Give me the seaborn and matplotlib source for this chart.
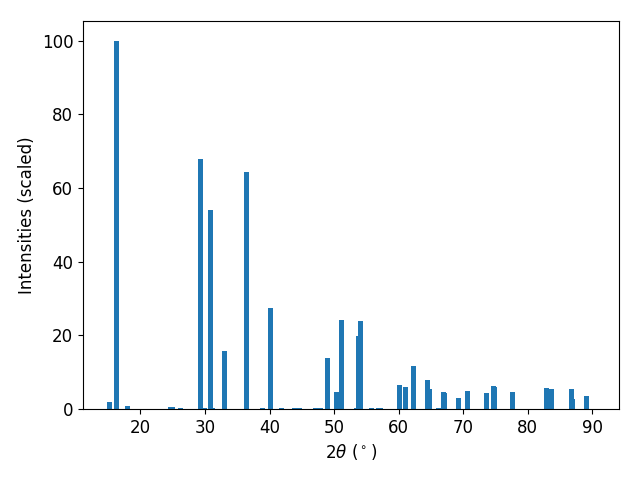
import numpy as np
import matplotlib
matplotlib.use("Agg")
import matplotlib.pyplot as plt
import seaborn as sns

# Peak positions (2theta, degrees) and scaled intensities
two_theta = [15.2, 16.28, 17.99, 24.7, 24.95, 26.2, 29.3, 29.9, 30.84, 31.1,
             33.0, 36.4, 38.9, 40.13, 41.8, 43.85, 44.6, 47.1, 47.9, 48.96,
             50.4, 51.1, 53.4, 53.8, 54.07, 55.8, 56.95, 57.15, 60.1, 61.04,
             62.28, 64.45, 64.76, 66.15, 66.9, 67.05, 69.25, 70.64, 73.58, 74.68,
             74.82, 77.6, 82.88, 83.65, 86.75, 86.9, 89.07]
intensity = [1.9, 100.0, 0.8, 0.6, 0.6, 0.3, 68.0, 0.2, 54.0, 0.2,
             15.7, 64.2, 0.3, 27.4, 0.3, 0.3, 0.3, 0.3, 0.3, 13.8,
             4.6, 24.1, 0.3, 19.8, 23.9, 0.3, 0.3, 0.3, 6.5, 6.0,
             11.7, 7.9, 5.4, 0.3, 4.6, 4.3, 3.0, 4.9, 4.3, 6.2,
             6.0, 4.6, 5.7, 5.4, 5.4, 2.7, 3.5]

plt.rcParams['font.size'] = 12
color = sns.color_palette("tab10")[0]

fig, ax = plt.subplots(figsize=(6.4, 4.8), dpi=100)
ax.bar(two_theta, intensity, width=0.8, color=color)
ax.set_xlim(11.1, 94.1)
ax.set_ylim(0, 105.3)
ax.set_xlabel(r"$2\theta$ ($^\circ$)")
ax.set_ylabel("Intensities (scaled)")
fig.subplots_adjust(left=0.1297, right=0.967, top=0.956, bottom=0.148)
plt.savefig("out.png")
